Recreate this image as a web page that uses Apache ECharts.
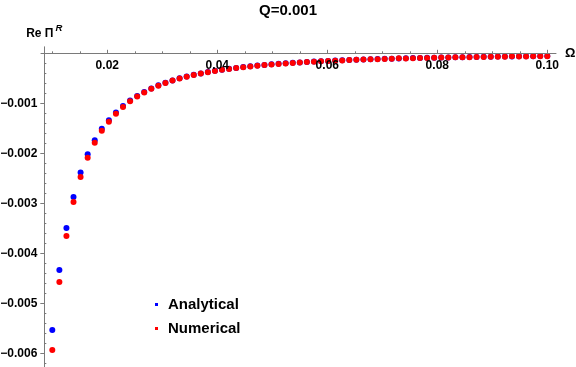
<!DOCTYPE html>
<html><head><meta charset="utf-8">
<script src="https://cdn.jsdelivr.net/npm/echarts@6/dist/echarts.min.js"></script>
<style>html,body{margin:0;padding:0;background:#fff}#c{width:576px;height:367px}</style>
</head><body><div id="c"></div>
<script>
const omega = [
  0.01, 0.011286, 0.012571, 0.013857, 0.015143, 0.016429, 0.017714, 0.019, 0.020286, 0.021571,
  0.022857, 0.024143, 0.025429, 0.026714, 0.028, 0.029286, 0.030571, 0.031857, 0.033143, 0.034429,
  0.035714, 0.037, 0.038286, 0.039571, 0.040857, 0.042143, 0.043429, 0.044714, 0.046, 0.047286,
  0.048571, 0.049857, 0.051143, 0.052429, 0.053714, 0.055, 0.056286, 0.057571, 0.058857, 0.060143,
  0.061429, 0.062714, 0.064, 0.065286, 0.066571, 0.067857, 0.069143, 0.070429, 0.071714, 0.073,
  0.074286, 0.075571, 0.076857, 0.078143, 0.079429, 0.080714, 0.082, 0.083286, 0.084571, 0.085857,
  0.087143, 0.088429, 0.089714, 0.091, 0.092286, 0.093571, 0.094857, 0.096143, 0.097429, 0.098714,
  0.1
];
const analytical = [
  -0.00553, -0.00433, -0.00349, -0.00287, -0.00238, -0.00202, -0.00174, -0.00151, -0.001337, -0.001182,
  -0.001053, -0.000944, -0.000851, -0.000771, -0.000702, -0.000641, -0.000588, -0.000542, -0.000501, -0.000464,
  -0.000431, -0.000402, -0.000375, -0.000351, -0.000329, -0.000310, -0.000292, -0.000275, -0.000260, -0.000246,
  -0.000233, -0.000221, -0.000210, -0.000200, -0.000191, -0.000182, -0.000174, -0.000166, -0.000159, -0.000152,
  -0.000146, -0.000140, -0.000134, -0.000129, -0.000124, -0.000119, -0.000115, -0.000111, -0.000107, -0.000103,
  -0.000100, -0.000096, -0.000093, -0.000090, -0.000087, -0.000084, -0.000082, -0.000079, -0.000077, -0.000075,
  -0.000072, -0.000070, -0.000068, -0.000066, -0.000065, -0.000063, -0.000061, -0.000060, -0.000058, -0.000056,
  -0.000055
];
const numerical = [
  -0.00593, -0.00457, -0.00365, -0.00297, -0.00247, -0.00209, -0.00179, -0.00155, -0.001367, -0.001207,
  -0.001073, -0.000960, -0.000864, -0.000781, -0.000710, -0.000647, -0.000593, -0.000545, -0.000504, -0.000467,
  -0.000433, -0.000404, -0.000377, -0.000353, -0.000331, -0.000312, -0.000294, -0.000277, -0.000262, -0.000248,
  -0.000235, -0.000223, -0.000212, -0.000202, -0.000193, -0.000184, -0.000176, -0.000168, -0.000161, -0.000154,
  -0.000148, -0.000142, -0.000136, -0.000131, -0.000126, -0.000121, -0.000117, -0.000113, -0.000109, -0.000097,
  -0.000102, -0.000098, -0.000095, -0.000092, -0.000089, -0.000086, -0.000084, -0.000081, -0.000079, -0.000077,
  -0.000074, -0.000072, -0.000070, -0.000068, -0.000067, -0.000058, -0.000063, -0.000062, -0.000060, -0.000058,
  -0.000057
];
const seriesNames = ['Analytical', 'Numerical'];
const titleText = 'Q=0.001';
const xName = 'Ω';
const xTickValues = [0.02, 0.04, 0.06, 0.08, 0.1];
const xTickLabels = ['0.02', '0.04', '0.06', '0.08', '0.10'];
const xMinorTicks = [0.01, 0.015, 0.025, 0.03, 0.035, 0.045, 0.05, 0.055, 0.065, 0.07, 0.075, 0.085, 0.09, 0.095];
const yTickValues = [-0.006, -0.005, -0.004, -0.003, -0.002, -0.001];
const yTickLabels = ['\u22120.006', '\u22120.005', '\u22120.004', '\u22120.003', '\u22120.002', '\u22120.001'];
const yMinorTicks = [-0.0062, -0.0058, -0.0056, -0.0054, -0.0052, -0.0048, -0.0046, -0.0044, -0.0042,
  -0.0038, -0.0036, -0.0034, -0.0032, -0.0028, -0.0026, -0.0024, -0.0022,
  -0.0018, -0.0016, -0.0014, -0.0012, -0.0008, -0.0006, -0.0004, -0.0002];

function lookup(values, labels, v) {
  let best = 0;
  for (let i = 1; i < values.length; i++) {
    if (Math.abs(values[i] - v) < Math.abs(values[best] - v)) best = i;
  }
  return labels[best];
}

const FONT = "'Liberation Sans', Arial, Helvetica, sans-serif";
const AXIS_COLOR = '#7a7a7a';
const X_MIN = 0.007945, X_MAX = 0.101582;
const Y_MIN = -0.00627, Y_MAX = 0.00013;
const X_AXIS_SHIFT = -6.5; // moves the top x axis down onto the y = 0 level

const chart = echarts.init(document.getElementById('c'), null, { renderer: 'canvas' });
chart.setOption({
  animation: false,
  backgroundColor: '#ffffff',
  title: {
    text: titleText,
    left: 'center',
    top: 0,
    padding: [3, 0, 0, 24],
    textStyle: { fontSize: 15, fontWeight: 'bold', color: '#000', fontFamily: FONT }
  },
  legend: {
    orient: 'vertical',
    left: 155,
    top: 297,
    padding: 0,
    itemGap: 9,
    itemWidth: 13,
    itemHeight: 3,
    icon: 'path://M0,0L1,0L1,1L0,1Z',
    data: seriesNames,
    textStyle: { fontSize: 15, fontWeight: 'bold', color: '#000', fontFamily: FONT }
  },
  grid: { left: 41, right: 20, top: 46.8, bottom: 0, containLabel: false, outerBoundsMode: 'none', z: 10 },
  xAxis: [
    {
      type: 'value', min: X_MIN, max: X_MAX, position: 'top', offset: X_AXIS_SHIFT, z: 10,
      axisLine: { show: true, onZero: false, lineStyle: { color: AXIS_COLOR, width: 1 } },
      axisTick: { show: true, inside: false, length: 3.5, customValues: xTickValues, lineStyle: { color: AXIS_COLOR } },
      axisLabel: {
        show: true, inside: true, customValues: xTickValues, margin: 6,
        formatter: (v) => lookup(xTickValues, xTickLabels, v),
        color: '#000', fontSize: 12, fontWeight: 'bold', fontFamily: FONT
      },
      splitLine: { show: false },
      name: xName, nameLocation: 'end', nameGap: 7,
      nameTextStyle: { fontSize: 13, fontWeight: 'bold', color: '#000', fontFamily: FONT, padding: [4, 0, 0, 0] }
    },
    {
      type: 'value', min: X_MIN, max: X_MAX, position: 'top', offset: X_AXIS_SHIFT, z: 10,
      axisLine: { show: true, onZero: false, lineStyle: { color: 'rgba(0,0,0,0)' } },
      axisTick: { show: true, inside: false, length: 2, customValues: xMinorTicks, lineStyle: { color: AXIS_COLOR } },
      axisLabel: { show: false },
      splitLine: { show: false }
    }
  ],
  yAxis: [
    {
      type: 'value', min: Y_MIN, max: Y_MAX, position: 'left', offset: -3.3, z: 10,
      axisLine: { show: true, onZero: false, lineStyle: { color: AXIS_COLOR, width: 1 } },
      axisTick: { show: true, inside: false, length: 4, customValues: yTickValues, lineStyle: { color: AXIS_COLOR } },
      axisLabel: {
        show: true, customValues: yTickValues, margin: 7,
        formatter: (v) => lookup(yTickValues, yTickLabels, v),
        color: '#000', fontSize: 12, fontWeight: 'bold', fontFamily: FONT
      },
      splitLine: { show: false },
      name: '{a|Re \u03A0}{b|R}',
      nameLocation: 'end',
      nameGap: 7.5,
      nameTextStyle: {
        rich: {
          a: { fontSize: 12, fontWeight: 'bold', color: '#000', fontFamily: FONT, verticalAlign: 'bottom' },
          b: { fontSize: 9.5, fontWeight: 'bold', fontStyle: 'italic', color: '#000', fontFamily: FONT, verticalAlign: 'bottom', padding: [0, 0, 6, 2] }
        }
      }
    },
    {
      type: 'value', min: Y_MIN, max: Y_MAX, position: 'left', offset: -3.3, z: 10,
      axisLine: { show: true, onZero: false, lineStyle: { color: 'rgba(0,0,0,0)' } },
      axisTick: { show: true, inside: true, length: 2, customValues: yMinorTicks, lineStyle: { color: AXIS_COLOR } },
      axisLabel: { show: false },
      splitLine: { show: false }
    }
  ],
  series: [
    {
      name: seriesNames[0], type: 'scatter', xAxisIndex: 0, yAxisIndex: 0, z: -1,
      symbol: 'circle', symbolSize: 6,
      itemStyle: { color: '#0000ff', opacity: 1 },
      data: omega.map((x, i) => [x, analytical[i]])
    },
    {
      name: seriesNames[1], type: 'scatter', xAxisIndex: 0, yAxisIndex: 0, z: -1,
      symbol: 'circle', symbolSize: 6,
      itemStyle: { color: '#ff0000', opacity: 1 },
      data: omega.map((x, i) => [x, numerical[i]])
    }
  ]
});
</script>
</body></html>
